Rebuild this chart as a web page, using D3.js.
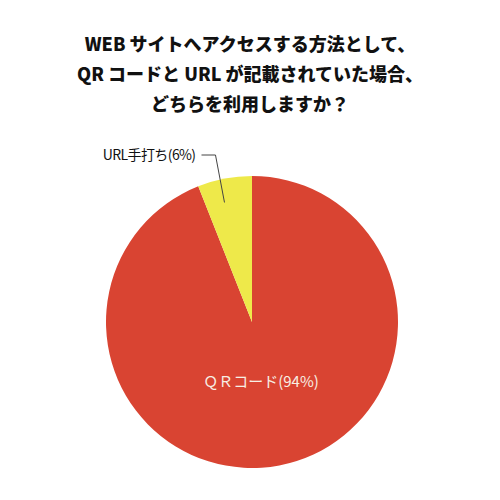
<!doctype html>
<html>
  <head>
    <meta charset="utf-8">
    <style>
      body {
        margin: 0;
        background: white;
        font-family: 'Noto Sans CJK JP', 'Noto Sans', sans-serif;
      }
      .title {
        font-weight: 900;
        font-size: 18px;
        fill: #111;
      }
    </style>
    <script src="https://d3js.org/d3.v7.min.js"></script>
  </head>
  <body>
    <svg class="chart" width=500 height=500></svg>
    <script>
      var titleLines = [
        "WEB サイトへアクセスする方法として、",
        "QR コードと URL が記載されていた場合、",
        "どちらを利用しますか？"
      ];
      var categories = ["ＱＲコード", "URL手打ち"];
      var values = [94, 6];
      var colors = ["#d94432", "#eee94a"];

      var svg = d3.select("svg"),
        cx = 252,
        cy = 322,
        radius = 146;

      svg.selectAll(".title")
        .data(titleLines)
        .enter().append("text")
        .attr("class", "title")
        .attr("x", 250)
        .attr("y", function(d, i){ return 51 + i*30; })
        .attr("text-anchor", "middle")
        .text(function(d){ return d; });

      var data = categories.map(function(c, i){ return {name: c, value: values[i], color: colors[i]}; });

      // clockwise from 12 o'clock, small slice ends at the top
      var pie = d3.pie().sort(null).value(function(d){ return d.value; })
        .startAngle(0).endAngle(2*Math.PI);
      var arcs = pie(data);
      var arc = d3.arc().innerRadius(0).outerRadius(radius);

      var g = svg.append("g").attr("transform", "translate(" + cx + "," + cy + ")");
      g.selectAll("path")
        .data(arcs)
        .enter().append("path")
        .attr("d", arc)
        .attr("fill", function(d){ return d.data.color; });

      // big slice label inside
      var big = arcs[0];
      g.append("text")
        .attr("x", 9)
        .attr("y", 65)
        .attr("text-anchor", "middle")
        .style("font-size", "15px")
        .style("fill", "#f7efe4")
        .text(big.data.name + "(" + big.data.value + "%)");

      // small slice: leader line + outside label
      var small = arcs[1];
      var a = small.startAngle + 0.4 * (small.endAngle - small.startAngle),
        r = radius * 0.84;
      var inner = [r * Math.sin(a), -r * Math.cos(a)];
      var bend = [inner[0] - 9, -radius - 21];
      var end = [bend[0] - 14, bend[1]];
      g.append("polyline")
        .attr("points", [inner, bend, end].map(function(p){ return p.join(","); }).join(" "))
        .attr("fill", "none")
        .attr("stroke", "#444")
        .attr("stroke-width", 1);
      g.append("text")
        .attr("x", end[0] - 6)
        .attr("y", end[1] + 5)
        .attr("text-anchor", "end")
        .style("font-size", "14px")
        .style("fill", "#111")
        .style("letter-spacing", "-0.6px")
        .text(small.data.name + "(" + small.data.value + "%)");
    </script>
  </body>
</html>
